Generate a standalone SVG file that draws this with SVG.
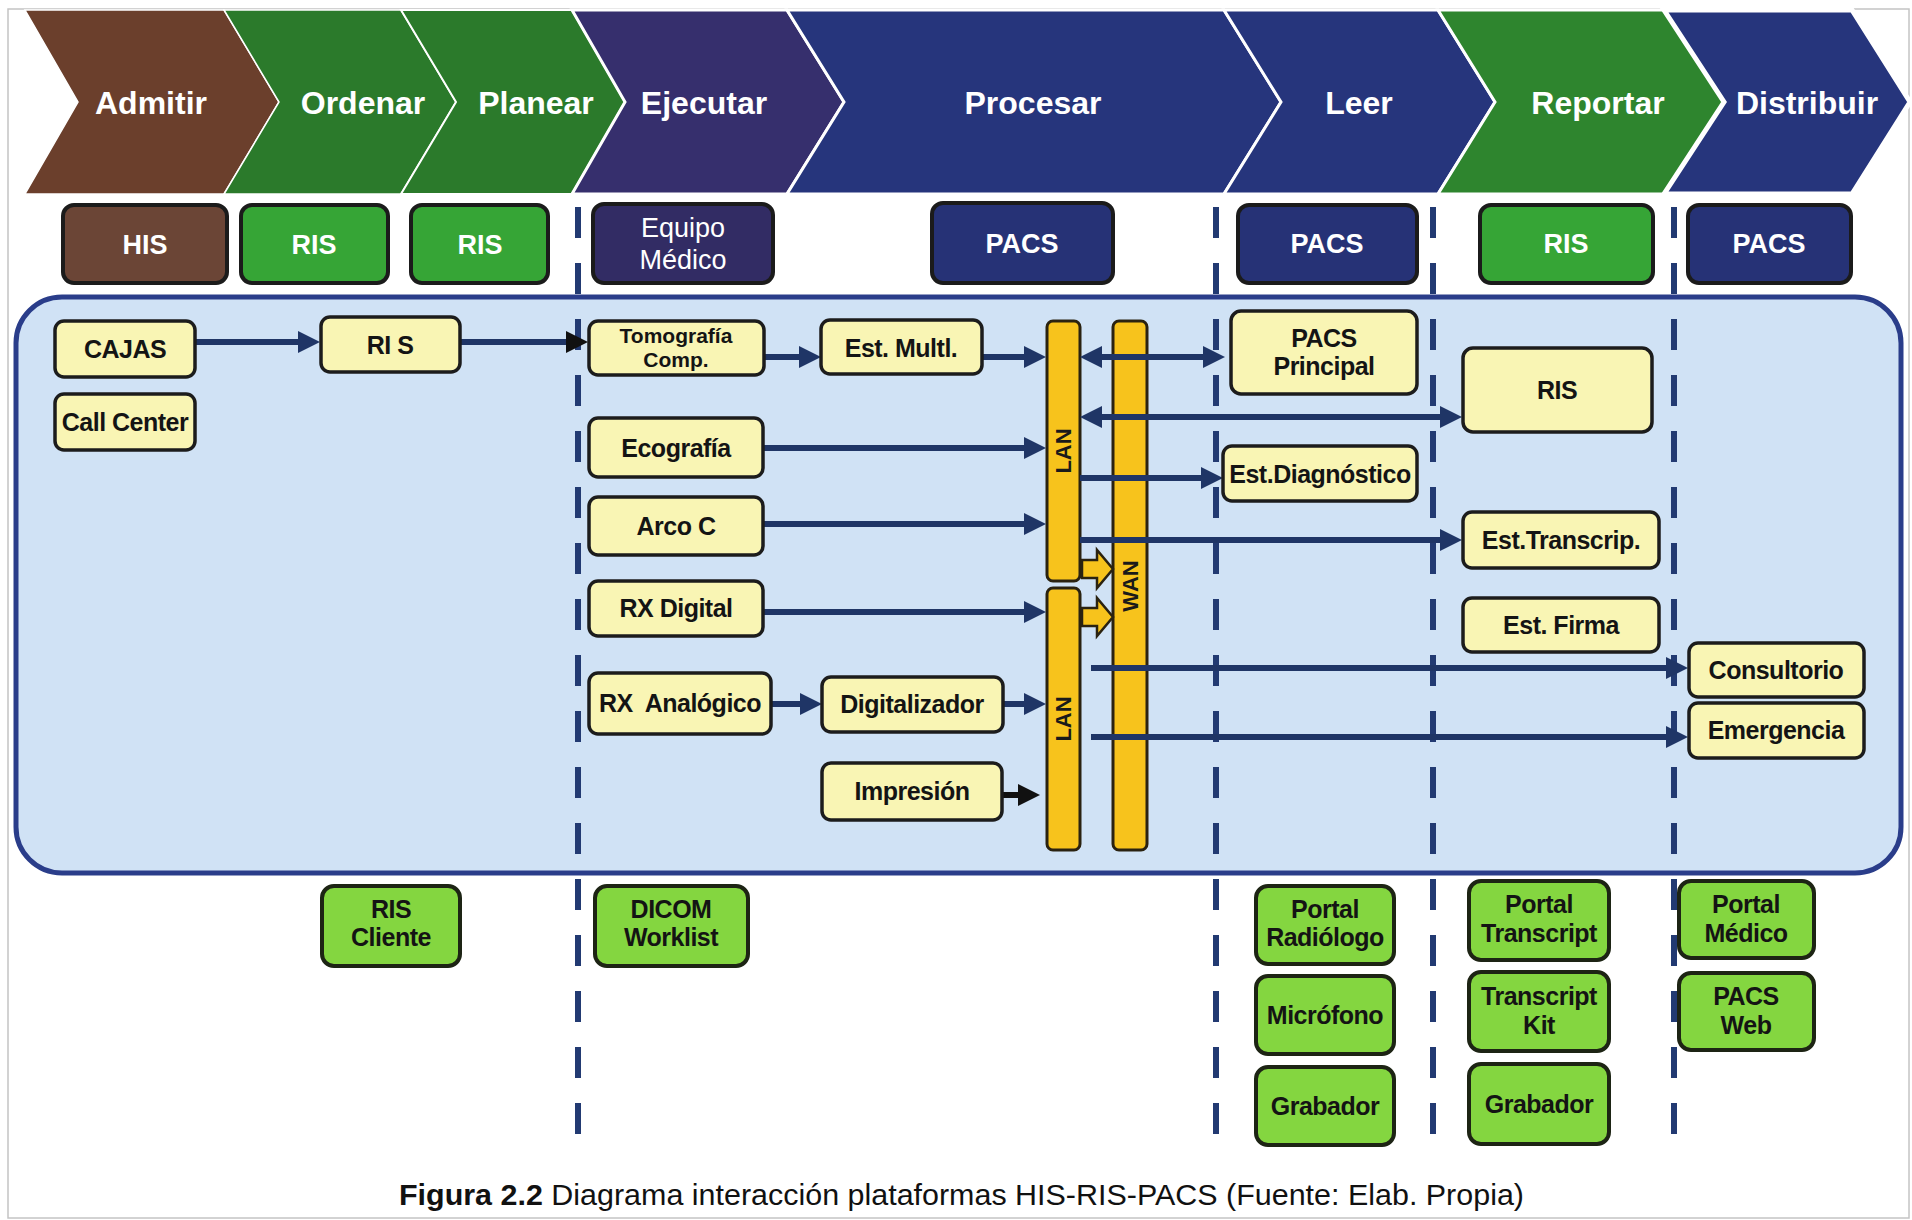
<svg xmlns="http://www.w3.org/2000/svg" width="1912" height="1220" viewBox="0 0 1912 1220">
  <style>
    text { font-family: "Liberation Sans", Arial, sans-serif; }
    .chev-t { font-size: 32px; font-weight: bold; fill: #ffffff; text-anchor: middle; }
    .tag { stroke: #1b1b1b; stroke-width: 4; }
    .tag-t { font-size: 27px; font-weight: bold; fill: #ffffff; text-anchor: middle; }
    .tag-r { font-size: 27px; font-weight: normal; fill: #ffffff; text-anchor: middle; }
    .yb { fill: #f9f5b4; stroke: #1c1c1c; stroke-width: 3.5; }
    .gb { fill: #84d640; stroke: #1d2414; stroke-width: 4; }
    .bt { font-size: 25px; font-weight: bold; fill: #141414; text-anchor: middle; letter-spacing: -0.5px; }
    .bt-s { font-size: 21px; font-weight: bold; fill: #141414; text-anchor: middle; }
    .bar { fill: #f7c31c; stroke: #2a2210; stroke-width: 3; }
    .bar-t { font-size: 22px; font-weight: bold; fill: #1a1a1a; text-anchor: middle; }
    .col { stroke: #223a72; stroke-width: 6; stroke-dasharray: 31 25; fill: none; }
    .link { stroke: #1f3566; stroke-width: 6; fill: none; marker-end: url(#ah); }
    .link2 { stroke: #1f3566; stroke-width: 6; fill: none; marker-start: url(#ah); marker-end: url(#ah); }
    .link-nk { stroke: #1f3566; stroke-width: 6; fill: none; marker-end: url(#ahk); }
    .link-k { stroke: #111111; stroke-width: 6; fill: none; marker-end: url(#ahk); }
    .blk { fill: #f7c31c; stroke: #2a2210; stroke-width: 2.5; stroke-linejoin: miter; }
  </style>
  <defs>
    <marker id="ah" viewBox="0 0 22 22" refX="2" refY="11" markerWidth="22" markerHeight="22" markerUnits="userSpaceOnUse" orient="auto-start-reverse">
      <path d="M0,0 L22,11 L0,22 z" fill="#1f3566"/>
    </marker>
    <marker id="ahk" viewBox="0 0 22 22" refX="2" refY="11" markerWidth="22" markerHeight="22" markerUnits="userSpaceOnUse" orient="auto-start-reverse">
      <path d="M0,0 L22,11 L0,22 z" fill="#111111"/>
    </marker>
  </defs>

  <rect x="0" y="0" width="1912" height="1220" fill="#ffffff"/>
  <rect x="8" y="9" width="1901" height="1209" fill="none" stroke="#c4c4c4" stroke-width="1.5"/>

  <!-- process stages -->
  <g id="stages" stroke="#ffffff" stroke-width="3" stroke-linejoin="miter">
    <g id="stage-admitir">
      <polygon points="25,10 224,10 279,102 224,194 25,194 78,102" fill="#6b3f2c" stroke-width="1.5"/>
      <text class="chev-t" x="151" y="114" stroke="none">Admitir</text>
    </g>
    <g id="stage-ordenar">
      <polygon points="224,10 401,10 456,102 401,194 224,194 279,102" fill="#2b7a2b" stroke-width="1.5"/>
      <text class="chev-t" x="363" y="114" stroke="none">Ordenar</text>
    </g>
    <g id="stage-planear">
      <polygon points="401,10 572,10 625,102 572,194 401,194 456,102" fill="#2b7a2b" stroke-width="2"/>
      <text class="chev-t" x="536" y="114" stroke="none">Planear</text>
    </g>
    <g id="stage-ejecutar">
      <polygon points="572,10 787,10 844,102 787,194 572,194 625,102" fill="#362f6d"/>
      <text class="chev-t" x="704" y="114" stroke="none">Ejecutar</text>
    </g>
    <g id="stage-procesar">
      <polygon points="787,10 1224,10 1281,102 1224,194 787,194 844,102" fill="#26357c"/>
      <text class="chev-t" x="1033" y="114" stroke="none">Procesar</text>
    </g>
    <g id="stage-leer">
      <polygon points="1224,10 1438,10 1495,102 1438,194 1224,194 1281,102" fill="#26357c"/>
      <text class="chev-t" x="1359" y="114" stroke="none">Leer</text>
    </g>
    <g id="stage-reportar">
      <polygon points="1438,10 1664,10 1724,102 1664,194 1438,194 1495,102" fill="#2e852e"/>
      <text class="chev-t" x="1598" y="114" stroke="none">Reportar</text>
    </g>
    <g id="stage-distribuir">
      <polygon points="1664,10 1852,10 1910,102 1852,194 1664,194 1724,102" fill="#26357c" stroke-width="5"/>
      <text class="chev-t" x="1807" y="114" stroke="none">Distribuir</text>
    </g>
  </g>

  <!-- system tags per stage -->
  <g id="tag-his"><rect class="tag" x="63" y="205" width="164" height="78" rx="11" fill="#6b4536"/><text class="tag-t" x="145" y="254">HIS</text></g>
  <g id="tag-ris-ordenar"><rect class="tag" x="241" y="205" width="147" height="78" rx="11" fill="#36a536"/><text class="tag-t" x="314" y="254">RIS</text></g>
  <g id="tag-ris-planear"><rect class="tag" x="411" y="205" width="137" height="78" rx="11" fill="#36a536"/><text class="tag-t" x="480" y="254">RIS</text></g>
  <g id="tag-equipo"><rect class="tag" x="593" y="204" width="180" height="79" rx="11" fill="#322c64"/><text class="tag-r" x="683" y="237">Equipo</text><text class="tag-r" x="683" y="269">Médico</text></g>
  <g id="tag-pacs-procesar"><rect class="tag" x="932" y="203" width="181" height="80" rx="11" fill="#263276"/><text class="tag-t" x="1022" y="253">PACS</text></g>
  <g id="tag-pacs-leer"><rect class="tag" x="1238" y="205" width="179" height="78" rx="11" fill="#263276"/><text class="tag-t" x="1327" y="253">PACS</text></g>
  <g id="tag-ris-reportar"><rect class="tag" x="1480" y="205" width="173" height="78" rx="11" fill="#36a536"/><text class="tag-t" x="1566" y="253">RIS</text></g>
  <g id="tag-pacs-distribuir"><rect class="tag" x="1688" y="205" width="163" height="78" rx="11" fill="#263276"/><text class="tag-t" x="1769" y="253">PACS</text></g>

  <!-- network panel -->
  <rect id="panel" x="16" y="297" width="1885" height="576" rx="46" fill="#d0e2f5" stroke="#2a3d8a" stroke-width="5"/>

  <!-- stage dividers -->
  <g id="dividers">
    <line class="col" x1="578" y1="207" x2="578" y2="1136"/>
    <line class="col" x1="1216" y1="207" x2="1216" y2="1136"/>
    <line class="col" x1="1433" y1="207" x2="1433" y2="1136"/>
    <line class="col" x1="1674" y1="207" x2="1674" y2="1136"/>
  </g>

  <!-- LAN / WAN backbones -->
  <g id="lan-upper"><rect class="bar" x="1047" y="321" width="33" height="260" rx="6"/><text class="bar-t" transform="translate(1071,451) rotate(-90)">LAN</text></g>
  <g id="lan-lower"><rect class="bar" x="1047" y="588" width="33" height="262" rx="6"/><text class="bar-t" transform="translate(1071,719) rotate(-90)">LAN</text></g>
  <g id="wan"><rect class="bar" x="1113" y="321" width="34" height="529" rx="6"/><text class="bar-t" transform="translate(1138,586) rotate(-90)">WAN</text></g>

  <!-- connectors -->
  <g id="connectors">
    <line class="link" x1="195" y1="342" x2="300" y2="342"/>
    <line class="link-nk" x1="460" y1="342" x2="568" y2="342"/>
    <line class="link" x1="764" y1="357" x2="801" y2="357"/>
    <line class="link" x1="982" y1="357" x2="1026" y2="357"/>
    <line class="link2" x1="1100" y1="357" x2="1205" y2="357"/>
    <line class="link2" x1="1100" y1="417" x2="1442" y2="417"/>
    <line class="link" x1="763" y1="448" x2="1026" y2="448"/>
    <line class="link" x1="1080" y1="478" x2="1203" y2="478"/>
    <line class="link" x1="763" y1="524" x2="1026" y2="524"/>
    <line class="link" x1="1080" y1="540" x2="1442" y2="540"/>
    <line class="link" x1="763" y1="612" x2="1026" y2="612"/>
    <line class="link" x1="1091" y1="668" x2="1668" y2="668"/>
    <line class="link" x1="1091" y1="737" x2="1668" y2="737"/>
    <line class="link" x1="771" y1="704" x2="802" y2="704"/>
    <line class="link" x1="1003" y1="704" x2="1026" y2="704"/>
    <line class="link-k" x1="1002" y1="795" x2="1020" y2="795"/>
    <polygon id="lan-wan-1" class="blk" points="1082,560 1097,560 1097,550 1113,569 1097,588 1097,578 1082,578"/>
    <polygon id="lan-wan-2" class="blk" points="1082,608 1097,608 1097,598 1113,617 1097,636 1097,626 1082,626"/>
  </g>

  <!-- equipment and workstations -->
  <g id="n-cajas"><rect class="yb" x="55" y="321" width="140" height="56" rx="9"/><text class="bt" x="125" y="358">CAJAS</text></g>
  <g id="n-callcenter"><rect class="yb" x="55" y="394" width="140" height="56" rx="9"/><text class="bt" x="125" y="431">Call Center</text></g>
  <g id="n-ris"><rect class="yb" x="321" y="317" width="139" height="55" rx="9"/><text class="bt" x="390" y="354">RI S</text></g>
  <g id="n-tomografia"><rect class="yb" x="589" y="321" width="175" height="54" rx="9"/><text class="bt-s" x="676" y="343">Tomografía</text><text class="bt-s" x="676" y="367">Comp.</text></g>
  <g id="n-estmult"><rect class="yb" x="821" y="320" width="161" height="54" rx="9"/><text class="bt" x="901" y="357">Est. Multl.</text></g>
  <g id="n-ecografia"><rect class="yb" x="589" y="418" width="174" height="59" rx="9"/><text class="bt" x="676" y="457">Ecografía</text></g>
  <g id="n-arcoc"><rect class="yb" x="589" y="497" width="174" height="58" rx="9"/><text class="bt" x="676" y="535">Arco C</text></g>
  <g id="n-rxdigital"><rect class="yb" x="589" y="581" width="174" height="55" rx="9"/><text class="bt" x="676" y="617">RX Digital</text></g>
  <g id="n-rxanalogico"><rect class="yb" x="589" y="673" width="182" height="61" rx="9"/><text class="bt" x="680" y="712">RX&#160; Analógico</text></g>
  <g id="n-digitalizador"><rect class="yb" x="822" y="677" width="181" height="55" rx="9"/><text class="bt" x="912" y="713">Digitalizador</text></g>
  <g id="n-impresion"><rect class="yb" x="822" y="763" width="180" height="57" rx="9"/><text class="bt" x="912" y="800">Impresión</text></g>
  <g id="n-pacsprincipal"><rect class="yb" x="1231" y="311" width="186" height="83" rx="10"/><text class="bt" x="1324" y="347">PACS</text><text class="bt" x="1324" y="375">Principal</text></g>
  <g id="n-ris-reporte"><rect class="yb" x="1463" y="348" width="189" height="84" rx="10"/><text class="bt" x="1557" y="399">RIS</text></g>
  <g id="n-estdiag"><rect class="yb" x="1223" y="446" width="194" height="55" rx="9"/><text class="bt" x="1320" y="483">Est.Diagnóstico</text></g>
  <g id="n-esttranscrip"><rect class="yb" x="1463" y="512" width="196" height="56" rx="9"/><text class="bt" x="1561" y="549">Est.Transcrip.</text></g>
  <g id="n-estfirma"><rect class="yb" x="1463" y="598" width="196" height="54" rx="9"/><text class="bt" x="1561" y="634">Est. Firma</text></g>
  <g id="n-consultorio"><rect class="yb" x="1689" y="643" width="175" height="54" rx="9"/><text class="bt" x="1776" y="679">Consultorio</text></g>
  <g id="n-emergencia"><rect class="yb" x="1689" y="703" width="175" height="55" rx="9"/><text class="bt" x="1776" y="739">Emergencia</text></g>

  <!-- client applications -->
  <g id="c-riscliente"><rect class="gb" x="322" y="886" width="138" height="80" rx="12"/><text class="bt" x="391" y="918">RIS</text><text class="bt" x="391" y="946">Cliente</text></g>
  <g id="c-dicom"><rect class="gb" x="595" y="886" width="153" height="80" rx="12"/><text class="bt" x="671" y="918">DICOM</text><text class="bt" x="671" y="946">Worklist</text></g>
  <g id="c-portalrad"><rect class="gb" x="1256" y="886" width="138" height="78" rx="12"/><text class="bt" x="1325" y="918">Portal</text><text class="bt" x="1325" y="946">Radiólogo</text></g>
  <g id="c-microfono"><rect class="gb" x="1256" y="976" width="138" height="78" rx="12"/><text class="bt" x="1325" y="1024">Micrófono</text></g>
  <g id="c-grabador1"><rect class="gb" x="1256" y="1067" width="138" height="78" rx="12"/><text class="bt" x="1325" y="1115">Grabador</text></g>
  <g id="c-portaltrans"><rect class="gb" x="1469" y="881" width="140" height="79" rx="12"/><text class="bt" x="1539" y="913">Portal</text><text class="bt" x="1539" y="942">Transcript</text></g>
  <g id="c-transkit"><rect class="gb" x="1469" y="972" width="140" height="79" rx="12"/><text class="bt" x="1539" y="1005">Transcript</text><text class="bt" x="1539" y="1034">Kit</text></g>
  <g id="c-grabador2"><rect class="gb" x="1469" y="1064" width="140" height="80" rx="12"/><text class="bt" x="1539" y="1113">Grabador</text></g>
  <g id="c-portalmed"><rect class="gb" x="1679" y="881" width="135" height="77" rx="12"/><text class="bt" x="1746" y="913">Portal</text><text class="bt" x="1746" y="942">Médico</text></g>
  <g id="c-pacsweb"><rect class="gb" x="1679" y="973" width="135" height="77" rx="12"/><text class="bt" x="1746" y="1005">PACS</text><text class="bt" x="1746" y="1034">Web</text></g>

  <!-- caption -->
  <text id="caption" x="399" y="1205" font-size="29" fill="#111111" textLength="1125" lengthAdjust="spacingAndGlyphs"><tspan font-weight="bold">Figura 2.2</tspan> Diagrama interacción plataformas HIS-RIS-PACS (Fuente: Elab. Propia)</text>
</svg>
